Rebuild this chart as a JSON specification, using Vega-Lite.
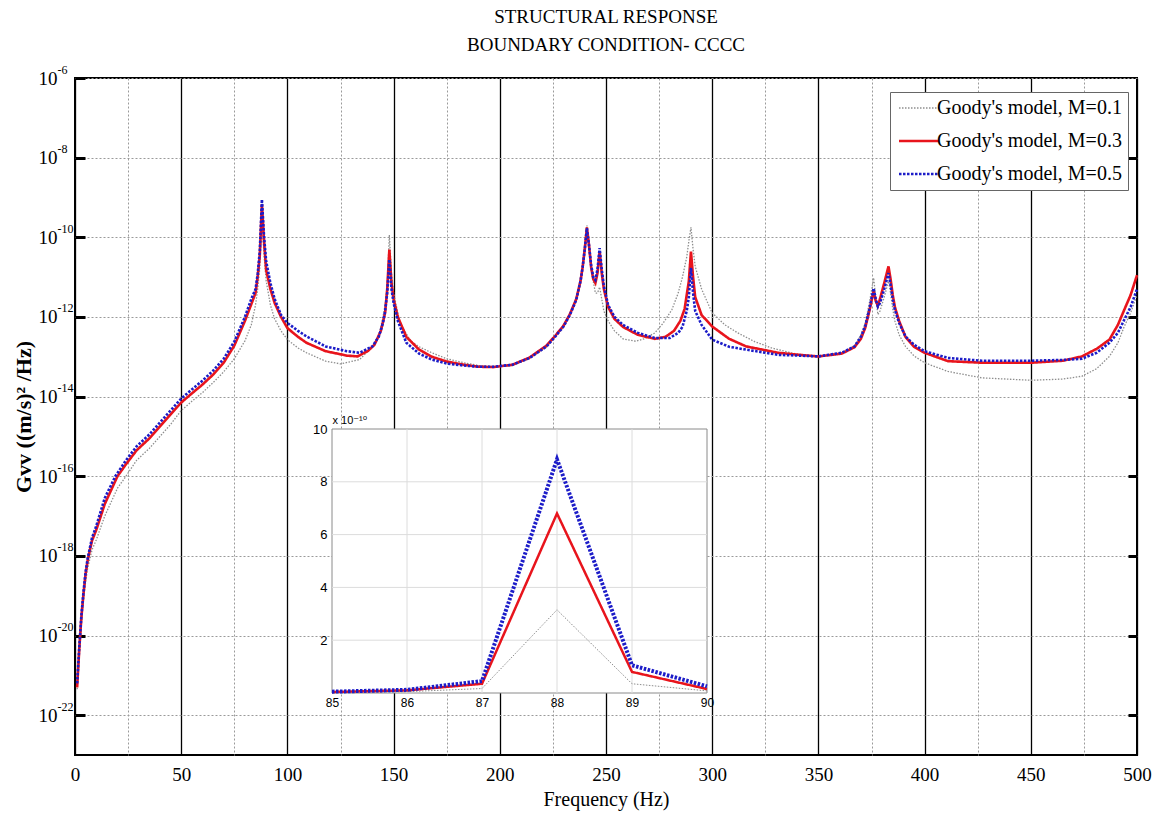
{
  "$schema": "https://vega.github.io/schema/vega-lite/v6.json",
  "width": 1062,
  "height": 677,
  "autosize": {"type": "none"},
  "padding": {"left": 75, "top": 78, "right": 25, "bottom": 59},
  "background": "white",
  "title": {
    "text": ["STRUCTURAL RESPONSE", "BOUNDARY CONDITION- CCCC"],
    "font": "Liberation Serif",
    "fontSize": 19,
    "fontWeight": "normal",
    "color": "black",
    "lineHeight": 28,
    "offset": 8,
    "anchor": "middle"
  },
  "config": {
    "view": {"stroke": "black", "strokeWidth": 2}
  },
  "resolve": {"scale": {"x": "independent", "y": "independent"}},
  "layer": [
    {
      "data": {"values": [
        {"f":1,"M":"0.1","v":4.47e-22},{"f":2,"M":"0.1","v":3.16e-21},{"f":3,"M":"0.1","v":2.0e-20},{"f":4,"M":"0.1","v":7.94e-20},{"f":5,"M":"0.1","v":2.24e-19},{"f":6,"M":"0.1","v":5.01e-19},{"f":8,"M":"0.1","v":1.41e-18},{"f":10,"M":"0.1","v":2.51e-18},{"f":14,"M":"0.1","v":1.0e-17},{"f":20,"M":"0.1","v":5.01e-17},{"f":24,"M":"0.1","v":1.0e-16},{"f":29,"M":"0.1","v":2.51e-16},{"f":35,"M":"0.1","v":5.01e-16},{"f":40,"M":"0.1","v":1.0e-15},{"f":45,"M":"0.1","v":2.0e-15},{"f":50,"M":"0.1","v":4.47e-15},{"f":55,"M":"0.1","v":7.59e-15},{"f":60,"M":"0.1","v":1.26e-14},{"f":65,"M":"0.1","v":2.24e-14},{"f":70,"M":"0.1","v":4.17e-14},{"f":75,"M":"0.1","v":8.91e-14},{"f":80,"M":"0.1","v":2.51e-13},{"f":83,"M":"0.1","v":6.31e-13},{"f":85,"M":"0.1","v":2.0e-12},{"f":86,"M":"0.1","v":5.0e-12},{"f":87,"M":"0.1","v":1.7e-11},{"f":88,"M":"0.1","v":3.15e-10},{"f":89,"M":"0.1","v":3.5e-11},{"f":90,"M":"0.1","v":8.0e-12},{"f":92,"M":"0.1","v":2.0e-12},{"f":94,"M":"0.1","v":8.91e-13},{"f":97,"M":"0.1","v":4.47e-13},{"f":100,"M":"0.1","v":2.69e-13},{"f":105,"M":"0.1","v":1.66e-13},{"f":109,"M":"0.1","v":1.26e-13},{"f":118,"M":"0.1","v":7.76e-14},{"f":125,"M":"0.1","v":6.61e-14},{"f":134,"M":"0.1","v":8.51e-14},{"f":140,"M":"0.1","v":1.78e-13},{"f":143,"M":"0.1","v":3.24e-13},{"f":145,"M":"0.1","v":1.0e-12},{"f":146,"M":"0.1","v":2.0e-12},{"f":147,"M":"0.1","v":6.31e-12},{"f":148,"M":"0.1","v":1.15e-10},{"f":149,"M":"0.1","v":1.26e-11},{"f":150,"M":"0.1","v":3.98e-12},{"f":153,"M":"0.1","v":7.08e-13},{"f":158,"M":"0.1","v":2.51e-13},{"f":162,"M":"0.1","v":1.78e-13},{"f":168,"M":"0.1","v":1.26e-13},{"f":175,"M":"0.1","v":8.91e-14},{"f":183,"M":"0.1","v":7.08e-14},{"f":190,"M":"0.1","v":6.03e-14},{"f":197,"M":"0.1","v":5.62e-14},{"f":206,"M":"0.1","v":6.03e-14},{"f":214,"M":"0.1","v":8.91e-14},{"f":222,"M":"0.1","v":1.74e-13},{"f":226,"M":"0.1","v":3.16e-13},{"f":230,"M":"0.1","v":5.62e-13},{"f":233,"M":"0.1","v":1.12e-12},{"f":236,"M":"0.1","v":2.82e-12},{"f":238,"M":"0.1","v":8.91e-12},{"f":239,"M":"0.1","v":2.0e-11},{"f":240,"M":"0.1","v":6.31e-11},{"f":241,"M":"0.1","v":2.0e-10},{"f":242,"M":"0.1","v":5.62e-11},{"f":243,"M":"0.1","v":1.58e-11},{"f":244,"M":"0.1","v":7.94e-12},{"f":245,"M":"0.1","v":3.98e-12},{"f":246,"M":"0.1","v":3.98e-12},{"f":247,"M":"0.1","v":5.62e-12},{"f":248,"M":"0.1","v":2.82e-12},{"f":249,"M":"0.1","v":1.41e-12},{"f":251,"M":"0.1","v":7.94e-13},{"f":254,"M":"0.1","v":4.47e-13},{"f":258,"M":"0.1","v":2.82e-13},{"f":264,"M":"0.1","v":2.45e-13},{"f":268,"M":"0.1","v":2.82e-13},{"f":273,"M":"0.1","v":3.98e-13},{"f":277,"M":"0.1","v":7.08e-13},{"f":281,"M":"0.1","v":1.51e-12},{"f":284,"M":"0.1","v":3.98e-12},{"f":286,"M":"0.1","v":1.0e-11},{"f":288,"M":"0.1","v":3.16e-11},{"f":289,"M":"0.1","v":7.94e-11},{"f":290,"M":"0.1","v":1.78e-10},{"f":291,"M":"0.1","v":5.01e-11},{"f":292,"M":"0.1","v":1.86e-11},{"f":295,"M":"0.1","v":5.01e-12},{"f":300,"M":"0.1","v":1.26e-12},{"f":306,"M":"0.1","v":6.31e-13},{"f":312,"M":"0.1","v":3.98e-13},{"f":320,"M":"0.1","v":2.40e-13},{"f":328,"M":"0.1","v":1.66e-13},{"f":341,"M":"0.1","v":1.12e-13},{"f":350,"M":"0.1","v":1.02e-13},{"f":361,"M":"0.1","v":1.26e-13},{"f":367,"M":"0.1","v":1.91e-13},{"f":370,"M":"0.1","v":3.55e-13},{"f":372,"M":"0.1","v":7.08e-13},{"f":374,"M":"0.1","v":2.24e-12},{"f":376,"M":"0.1","v":9.55e-12},{"f":377,"M":"0.1","v":3.16e-12},{"f":378,"M":"0.1","v":1.15e-12},{"f":379,"M":"0.1","v":1.41e-12},{"f":381,"M":"0.1","v":3.16e-12},{"f":383,"M":"0.1","v":7.94e-12},{"f":384,"M":"0.1","v":3.98e-12},{"f":385,"M":"0.1","v":1.58e-12},{"f":386,"M":"0.1","v":7.94e-13},{"f":388,"M":"0.1","v":3.55e-13},{"f":391,"M":"0.1","v":1.82e-13},{"f":395,"M":"0.1","v":1.05e-13},{"f":400,"M":"0.1","v":7.08e-14},{"f":411,"M":"0.1","v":4.27e-14},{"f":427,"M":"0.1","v":2.95e-14},{"f":450,"M":"0.1","v":2.57e-14},{"f":465,"M":"0.1","v":2.75e-14},{"f":474,"M":"0.1","v":3.24e-14},{"f":481,"M":"0.1","v":5.01e-14},{"f":487,"M":"0.1","v":1.02e-13},{"f":491,"M":"0.1","v":2.24e-13},{"f":494,"M":"0.1","v":5.75e-13},{"f":497,"M":"0.1","v":1.26e-12},{"f":500,"M":"0.1","v":3.55e-12},

        {"f":1,"M":"0.3","v":5.01e-22},{"f":2,"M":"0.3","v":4.47e-21},{"f":3,"M":"0.3","v":2.82e-20},{"f":4,"M":"0.3","v":1.12e-19},{"f":5,"M":"0.3","v":3.55e-19},{"f":6,"M":"0.3","v":7.94e-19},{"f":8,"M":"0.3","v":2.40e-18},{"f":10,"M":"0.3","v":4.47e-18},{"f":14,"M":"0.3","v":2.0e-17},{"f":20,"M":"0.3","v":1.0e-16},{"f":24,"M":"0.3","v":2.0e-16},{"f":29,"M":"0.3","v":4.47e-16},{"f":35,"M":"0.3","v":8.91e-16},{"f":40,"M":"0.3","v":1.78e-15},{"f":45,"M":"0.3","v":3.55e-15},{"f":50,"M":"0.3","v":7.08e-15},{"f":55,"M":"0.3","v":1.20e-14},{"f":60,"M":"0.3","v":2.0e-14},{"f":65,"M":"0.3","v":3.55e-14},{"f":70,"M":"0.3","v":7.08e-14},{"f":75,"M":"0.3","v":1.91e-13},{"f":80,"M":"0.3","v":7.94e-13},{"f":83,"M":"0.3","v":2.09e-12},{"f":85,"M":"0.3","v":4.0e-12},{"f":86,"M":"0.3","v":1.0e-11},{"f":87,"M":"0.3","v":3.5e-11},{"f":88,"M":"0.3","v":6.8e-10},{"f":89,"M":"0.3","v":8.0e-11},{"f":90,"M":"0.3","v":1.5e-11},{"f":92,"M":"0.3","v":5.01e-12},{"f":94,"M":"0.3","v":2.24e-12},{"f":97,"M":"0.3","v":1.0e-12},{"f":100,"M":"0.3","v":5.25e-13},{"f":105,"M":"0.3","v":3.16e-13},{"f":109,"M":"0.3","v":2.24e-13},{"f":118,"M":"0.3","v":1.38e-13},{"f":128,"M":"0.3","v":1.07e-13},{"f":133,"M":"0.3","v":1.02e-13},{"f":138,"M":"0.3","v":1.41e-13},{"f":141,"M":"0.3","v":2.0e-13},{"f":144,"M":"0.3","v":4.47e-13},{"f":146,"M":"0.3","v":1.26e-12},{"f":147,"M":"0.3","v":5.01e-12},{"f":148,"M":"0.3","v":4.90e-11},{"f":149,"M":"0.3","v":7.08e-12},{"f":150,"M":"0.3","v":2.82e-12},{"f":152,"M":"0.3","v":1.0e-12},{"f":156,"M":"0.3","v":3.16e-13},{"f":162,"M":"0.3","v":1.51e-13},{"f":168,"M":"0.3","v":1.0e-13},{"f":175,"M":"0.3","v":7.59e-14},{"f":183,"M":"0.3","v":6.31e-14},{"f":190,"M":"0.3","v":5.62e-14},{"f":197,"M":"0.3","v":5.50e-14},{"f":206,"M":"0.3","v":6.31e-14},{"f":214,"M":"0.3","v":9.55e-14},{"f":222,"M":"0.3","v":1.91e-13},{"f":226,"M":"0.3","v":3.31e-13},{"f":230,"M":"0.3","v":6.03e-13},{"f":233,"M":"0.3","v":1.17e-12},{"f":236,"M":"0.3","v":2.82e-12},{"f":238,"M":"0.3","v":7.94e-12},{"f":239,"M":"0.3","v":1.78e-11},{"f":240,"M":"0.3","v":5.01e-11},{"f":241,"M":"0.3","v":1.78e-10},{"f":242,"M":"0.3","v":6.31e-11},{"f":243,"M":"0.3","v":1.78e-11},{"f":244,"M":"0.3","v":8.91e-12},{"f":245,"M":"0.3","v":7.08e-12},{"f":246,"M":"0.3","v":1.26e-11},{"f":247,"M":"0.3","v":4.47e-11},{"f":248,"M":"0.3","v":1.26e-11},{"f":249,"M":"0.3","v":5.01e-12},{"f":251,"M":"0.3","v":1.78e-12},{"f":254,"M":"0.3","v":8.91e-13},{"f":258,"M":"0.3","v":5.62e-13},{"f":265,"M":"0.3","v":3.55e-13},{"f":273,"M":"0.3","v":2.82e-13},{"f":278,"M":"0.3","v":3.16e-13},{"f":282,"M":"0.3","v":4.47e-13},{"f":285,"M":"0.3","v":7.94e-13},{"f":287,"M":"0.3","v":1.58e-12},{"f":289,"M":"0.3","v":7.94e-12},{"f":290,"M":"0.3","v":4.37e-11},{"f":291,"M":"0.3","v":1.0e-11},{"f":292,"M":"0.3","v":3.16e-12},{"f":295,"M":"0.3","v":1.12e-12},{"f":300,"M":"0.3","v":5.75e-13},{"f":308,"M":"0.3","v":2.82e-13},{"f":316,"M":"0.3","v":1.82e-13},{"f":331,"M":"0.3","v":1.26e-13},{"f":341,"M":"0.3","v":1.12e-13},{"f":350,"M":"0.3","v":1.02e-13},{"f":361,"M":"0.3","v":1.20e-13},{"f":367,"M":"0.3","v":1.74e-13},{"f":370,"M":"0.3","v":2.82e-13},{"f":372,"M":"0.3","v":5.25e-13},{"f":374,"M":"0.3","v":1.41e-12},{"f":376,"M":"0.3","v":4.47e-12},{"f":377,"M":"0.3","v":2.51e-12},{"f":378,"M":"0.3","v":1.91e-12},{"f":379,"M":"0.3","v":2.82e-12},{"f":381,"M":"0.3","v":7.08e-12},{"f":383,"M":"0.3","v":1.86e-11},{"f":384,"M":"0.3","v":8.91e-12},{"f":385,"M":"0.3","v":3.55e-12},{"f":386,"M":"0.3","v":1.78e-12},{"f":388,"M":"0.3","v":7.94e-13},{"f":391,"M":"0.3","v":3.16e-13},{"f":395,"M":"0.3","v":1.78e-13},{"f":400,"M":"0.3","v":1.26e-13},{"f":411,"M":"0.3","v":7.76e-14},{"f":427,"M":"0.3","v":7.08e-14},{"f":450,"M":"0.3","v":7.08e-14},{"f":465,"M":"0.3","v":7.94e-14},{"f":474,"M":"0.3","v":1.02e-13},{"f":481,"M":"0.3","v":1.58e-13},{"f":487,"M":"0.3","v":2.69e-13},{"f":491,"M":"0.3","v":6.31e-13},{"f":494,"M":"0.3","v":1.51e-12},{"f":497,"M":"0.3","v":3.55e-12},{"f":500,"M":"0.3","v":1.12e-11},

        {"f":1,"M":"0.5","v":6.31e-22},{"f":2,"M":"0.5","v":5.01e-21},{"f":3,"M":"0.5","v":3.16e-20},{"f":4,"M":"0.5","v":1.26e-19},{"f":5,"M":"0.5","v":3.98e-19},{"f":6,"M":"0.5","v":8.91e-19},{"f":8,"M":"0.5","v":2.82e-18},{"f":10,"M":"0.5","v":5.62e-18},{"f":14,"M":"0.5","v":2.82e-17},{"f":19,"M":"0.5","v":1.0e-16},{"f":24,"M":"0.5","v":2.51e-16},{"f":29,"M":"0.5","v":5.62e-16},{"f":35,"M":"0.5","v":1.12e-15},{"f":40,"M":"0.5","v":2.24e-15},{"f":45,"M":"0.5","v":4.47e-15},{"f":50,"M":"0.5","v":8.91e-15},{"f":55,"M":"0.5","v":1.51e-14},{"f":60,"M":"0.5","v":2.51e-14},{"f":65,"M":"0.5","v":4.47e-14},{"f":70,"M":"0.5","v":8.91e-14},{"f":75,"M":"0.5","v":2.40e-13},{"f":80,"M":"0.5","v":1.0e-12},{"f":83,"M":"0.5","v":2.82e-12},{"f":85,"M":"0.5","v":5.0e-12},{"f":86,"M":"0.5","v":1.2e-11},{"f":87,"M":"0.5","v":4.5e-11},{"f":88,"M":"0.5","v":8.85e-10},{"f":89,"M":"0.5","v":1.05e-10},{"f":90,"M":"0.5","v":2.5e-11},{"f":92,"M":"0.5","v":7.08e-12},{"f":94,"M":"0.5","v":2.82e-12},{"f":97,"M":"0.5","v":1.12e-12},{"f":100,"M":"0.5","v":7.08e-13},{"f":105,"M":"0.5","v":4.47e-13},{"f":109,"M":"0.5","v":3.24e-13},{"f":118,"M":"0.5","v":1.82e-13},{"f":128,"M":"0.5","v":1.38e-13},{"f":134,"M":"0.5","v":1.26e-13},{"f":140,"M":"0.5","v":1.82e-13},{"f":143,"M":"0.5","v":3.16e-13},{"f":145,"M":"0.5","v":7.08e-13},{"f":146,"M":"0.5","v":1.41e-12},{"f":147,"M":"0.5","v":3.98e-12},{"f":148,"M":"0.5","v":2.75e-11},{"f":149,"M":"0.5","v":5.01e-12},{"f":150,"M":"0.5","v":2.24e-12},{"f":152,"M":"0.5","v":7.94e-13},{"f":156,"M":"0.5","v":2.24e-13},{"f":162,"M":"0.5","v":1.20e-13},{"f":168,"M":"0.5","v":8.51e-14},{"f":175,"M":"0.5","v":6.76e-14},{"f":183,"M":"0.5","v":6.03e-14},{"f":190,"M":"0.5","v":5.62e-14},{"f":197,"M":"0.5","v":5.62e-14},{"f":206,"M":"0.5","v":6.31e-14},{"f":214,"M":"0.5","v":9.33e-14},{"f":222,"M":"0.5","v":1.82e-13},{"f":226,"M":"0.5","v":3.16e-13},{"f":230,"M":"0.5","v":5.75e-13},{"f":233,"M":"0.5","v":1.12e-12},{"f":236,"M":"0.5","v":2.69e-12},{"f":238,"M":"0.5","v":7.94e-12},{"f":239,"M":"0.5","v":1.78e-11},{"f":240,"M":"0.5","v":5.01e-11},{"f":241,"M":"0.5","v":1.70e-10},{"f":242,"M":"0.5","v":6.31e-11},{"f":243,"M":"0.5","v":2.0e-11},{"f":244,"M":"0.5","v":1.0e-11},{"f":245,"M":"0.5","v":8.51e-12},{"f":246,"M":"0.5","v":1.58e-11},{"f":247,"M":"0.5","v":5.37e-11},{"f":248,"M":"0.5","v":1.58e-11},{"f":249,"M":"0.5","v":5.89e-12},{"f":251,"M":"0.5","v":2.0e-12},{"f":254,"M":"0.5","v":1.0e-12},{"f":258,"M":"0.5","v":6.31e-13},{"f":265,"M":"0.5","v":3.98e-13},{"f":273,"M":"0.5","v":2.95e-13},{"f":280,"M":"0.5","v":2.95e-13},{"f":284,"M":"0.5","v":3.98e-13},{"f":286,"M":"0.5","v":5.62e-13},{"f":288,"M":"0.5","v":1.41e-12},{"f":289,"M":"0.5","v":3.16e-12},{"f":290,"M":"0.5","v":1.70e-11},{"f":291,"M":"0.5","v":3.98e-12},{"f":292,"M":"0.5","v":1.41e-12},{"f":295,"M":"0.5","v":6.31e-13},{"f":300,"M":"0.5","v":2.69e-13},{"f":308,"M":"0.5","v":1.78e-13},{"f":316,"M":"0.5","v":1.51e-13},{"f":331,"M":"0.5","v":1.12e-13},{"f":341,"M":"0.5","v":1.07e-13},{"f":350,"M":"0.5","v":1.02e-13},{"f":361,"M":"0.5","v":1.26e-13},{"f":367,"M":"0.5","v":1.82e-13},{"f":370,"M":"0.5","v":3.16e-13},{"f":372,"M":"0.5","v":5.75e-13},{"f":374,"M":"0.5","v":1.58e-12},{"f":376,"M":"0.5","v":5.25e-12},{"f":377,"M":"0.5","v":2.82e-12},{"f":378,"M":"0.5","v":1.82e-12},{"f":379,"M":"0.5","v":2.24e-12},{"f":381,"M":"0.5","v":5.01e-12},{"f":383,"M":"0.5","v":1.26e-11},{"f":384,"M":"0.5","v":6.31e-12},{"f":385,"M":"0.5","v":2.82e-12},{"f":386,"M":"0.5","v":1.51e-12},{"f":388,"M":"0.5","v":7.08e-13},{"f":391,"M":"0.5","v":3.24e-13},{"f":395,"M":"0.5","v":2.0e-13},{"f":400,"M":"0.5","v":1.38e-13},{"f":411,"M":"0.5","v":9.33e-14},{"f":427,"M":"0.5","v":7.94e-14},{"f":450,"M":"0.5","v":7.94e-14},{"f":465,"M":"0.5","v":8.32e-14},{"f":474,"M":"0.5","v":8.91e-14},{"f":481,"M":"0.5","v":1.26e-13},{"f":487,"M":"0.5","v":2.24e-13},{"f":491,"M":"0.5","v":3.98e-13},{"f":494,"M":"0.5","v":8.51e-13},{"f":497,"M":"0.5","v":1.78e-12},{"f":500,"M":"0.5","v":5.01e-12}
      ]},
      "mark": {"type": "line"},
      "encoding": {
        "x": {
          "field": "f", "type": "quantitative",
          "scale": {"domain": [0, 500], "nice": false, "zero": false},
          "axis": {
            "values": [0,25,50,75,100,125,150,175,200,225,250,275,300,325,350,375,400,425,450,475,500],
            "labelExpr": "datum.value % 50 === 0 ? datum.label : ''",
            "labelFlush": false,
            "grid": true,
            "gridColor": {"condition": {"test": "datum.value % 50 === 0", "value": "#000000"}, "value": "#9a9a9a"},
            "gridDash": {"condition": {"test": "datum.value % 50 === 0", "value": []}, "value": [2, 2]},
            "gridWidth": {"condition": {"test": "datum.value % 50 === 0", "value": 1.3}, "value": 1},
            "gridOpacity": 1,
            "ticks": false,
            "domain": false,
            "labelFont": "Liberation Serif",
            "labelFontSize": 19,
            "labelColor": "black",
            "labelPadding": 10,
            "title": "Frequency (Hz)",
            "titleFont": "Liberation Serif",
            "titleFontSize": 20,
            "titleFontWeight": "normal",
            "titleColor": "black",
            "titlePadding": 5
          }
        },
        "y": {
          "field": "v", "type": "quantitative",
          "scale": {"type": "log", "domain": [1e-23, 1e-6], "nice": false},
          "axis": {
            "values": [1e-22, 1e-20, 1e-18, 1e-16, 1e-14, 1e-12, 1e-10, 1e-8, 1e-6],
            "labelExpr": "'10'",
            "labelAlign": "left",
            "grid": true,
            "gridColor": "#9a9a9a",
            "gridDash": [2, 2],
            "gridWidth": 1,
            "domain": false,
            "ticks": true,
            "tickSize": -10,
            "tickWidth": 3,
            "tickColor": "black",
            "labelFont": "Liberation Serif",
            "labelFontSize": 19,
            "labelColor": "black",
            "labelPadding": 47,
            "title": "Gvv ((m/s)² /Hz)",
            "titleFont": "Liberation Serif",
            "titleFontSize": 22,
            "titleFontWeight": "bold",
            "titleColor": "black",
            "titlePadding": 3
          }
        },
        "color": {
          "field": "M", "type": "nominal",
          "scale": {"domain": ["0.1", "0.3", "0.5"], "range": ["#8e8e8e", "#e8141c", "#1c1cc8"]},
          "legend": {
            "orient": "none",
            "legendX": 815,
            "legendY": 14,
            "title": null,
            "labelExpr": "\"Goody's model, M=\" + datum.label",
            "labelFont": "Liberation Serif",
            "labelFontSize": 20,
            "labelColor": "black",
            "labelLimit": 400,
            "labelOffset": 8,
            "symbolType": "stroke",
            "symbolSize": 1600,
            "symbolOffset": 13,
            "strokeColor": "#666666",
            "fillColor": "white",
            "padding": 6,
            "rowPadding": 13,
            "encode": {
              "symbols": {"update": {"strokeWidth": {"signal": "datum.value === '0.1' ? 1.3 : 2.6"}}}
            }
          }
        },
        "strokeDash": {
          "field": "M", "type": "nominal",
          "scale": {"domain": ["0.1", "0.3", "0.5"], "range": [[1.5, 1.5], [1, 0], [2.5, 1.5]]}
        },
        "strokeWidth": {
          "field": "M", "type": "nominal",
          "scale": {"type": "ordinal", "domain": ["0.1", "0.3", "0.5"], "range": [1.3, 2.6, 2.6]},
          "legend": null
        }
      }
    },
    {
      "data": {"values": [{"v": 1e-22}]},
      "mark": {"type": "point", "opacity": 0},
      "encoding": {
        "y": {
          "field": "v", "type": "quantitative",
          "scale": {"type": "log", "domain": [1e-23, 1e-6], "nice": false},
          "axis": {
            "orient": "left",
            "values": [1e-22, 1e-20, 1e-18, 1e-16, 1e-14, 1e-12, 1e-10, 1e-8, 1e-6],
            "labelExpr": "toString(round(log(datum.value)/LN10))",
            "labelAlign": "left",
            "labelPadding": 18,
            "labelOffset": -9,
            "labelFont": "Liberation Serif",
            "labelFontSize": 12,
            "labelColor": "black",
            "grid": false,
            "ticks": false,
            "domain": false,
            "title": null
          }
        }
      }
    },
    {
      "data": {"values": [{"v": 1e-22}]},
      "mark": {"type": "point", "opacity": 0},
      "encoding": {
        "y": {
          "field": "v", "type": "quantitative",
          "scale": {"type": "log", "domain": [1e-23, 1e-6], "nice": false},
          "axis": {
            "orient": "right",
            "values": [1e-22, 1e-20, 1e-18, 1e-16, 1e-14, 1e-12, 1e-10, 1e-8],
            "labels": false,
            "grid": false,
            "ticks": true,
            "tickSize": -9,
            "tickWidth": 3,
            "tickColor": "black",
            "domain": false,
            "title": null
          }
        }
      }
    },
    {
      "layer": [
        {
          "data": {"values": [{"x0": 85, "x1": 90, "y0": 0, "y1": 10}]},
          "mark": {"type": "rect", "fill": "white", "stroke": "#8a8a8a", "strokeWidth": 1},
          "encoding": {
            "x": {
              "field": "x0", "type": "quantitative",
              "scale": {"domain": [85, 90], "range": [257, 632], "nice": false, "zero": false},
              "axis": {
                "orient": "bottom",
                "offset": -62,
                "values": [85, 86, 87, 88, 89, 90],
                "format": "d",
                "labelFlush": false,
                "grid": false,
                "domain": false,
                "ticks": false,
                "labelFont": "Liberation Sans",
                "labelFontSize": 12,
                "labelColor": "black",
                "labelPadding": 4,
                "title": null
              }
            },
            "x2": {"field": "x1"},
            "y": {
              "field": "y0", "type": "quantitative",
              "scale": {"domain": [0, 10], "range": [615, 351], "nice": false},
              "axis": {
                "orient": "left",
                "offset": -257,
                "values": [2, 4, 6, 8, 10],
                "format": "d",
                "grid": false,
                "domain": false,
                "ticks": false,
                "labelFont": "Liberation Sans",
                "labelFontSize": 13,
                "labelColor": "black",
                "labelPadding": 5,
                "title": "x 10⁻¹⁰",
                "titleAngle": 0,
                "titleAlign": "left",
                "titleBaseline": "bottom",
                "titleX": 0,
                "titleY": 347,
                "titleFont": "Liberation Sans, DejaVu Sans",
                "titleFontSize": 11,
                "titleFontWeight": "normal",
                "titleColor": "black"
              }
            },
            "y2": {"field": "y1"}
          }
        },
        {
          "data": {"values": [{"g": 86}, {"g": 87}, {"g": 88}, {"g": 89}]},
          "mark": {"type": "rule", "color": "#dcdcdc", "strokeWidth": 1},
          "encoding": {
            "x": {"field": "g", "type": "quantitative"},
            "y": {"datum": 0},
            "y2": {"datum": 10}
          }
        },
        {
          "data": {"values": [{"g": 2}, {"g": 4}, {"g": 6}, {"g": 8}]},
          "mark": {"type": "rule", "color": "#dcdcdc", "strokeWidth": 1},
          "encoding": {
            "y": {"field": "g", "type": "quantitative"},
            "x": {"datum": 85},
            "x2": {"datum": 90}
          }
        },
        {
          "data": {"values": [
            {"f":85,"M":"0.1","v":0.02},{"f":86,"M":"0.1","v":0.05},{"f":87,"M":"0.1","v":0.17},{"f":88,"M":"0.1","v":3.15},{"f":89,"M":"0.1","v":0.35},{"f":90,"M":"0.1","v":0.08},
            {"f":85,"M":"0.3","v":0.04},{"f":86,"M":"0.3","v":0.1},{"f":87,"M":"0.3","v":0.35},{"f":88,"M":"0.3","v":6.8},{"f":89,"M":"0.3","v":0.8},{"f":90,"M":"0.3","v":0.15},
            {"f":85,"M":"0.5","v":0.05},{"f":86,"M":"0.5","v":0.12},{"f":87,"M":"0.5","v":0.45},{"f":88,"M":"0.5","v":8.85},{"f":89,"M":"0.5","v":1.05},{"f":90,"M":"0.5","v":0.25}
          ]},
          "mark": {"type": "line"},
          "encoding": {
            "x": {"field": "f", "type": "quantitative"},
            "y": {"field": "v", "type": "quantitative"},
            "color": {"field": "M", "type": "nominal", "legend": null},
            "strokeDash": {"field": "M", "type": "nominal", "legend": null},
            "strokeWidth": {"field": "M", "type": "nominal", "legend": null}
          }
        }
      ]
    }
  ]
}
